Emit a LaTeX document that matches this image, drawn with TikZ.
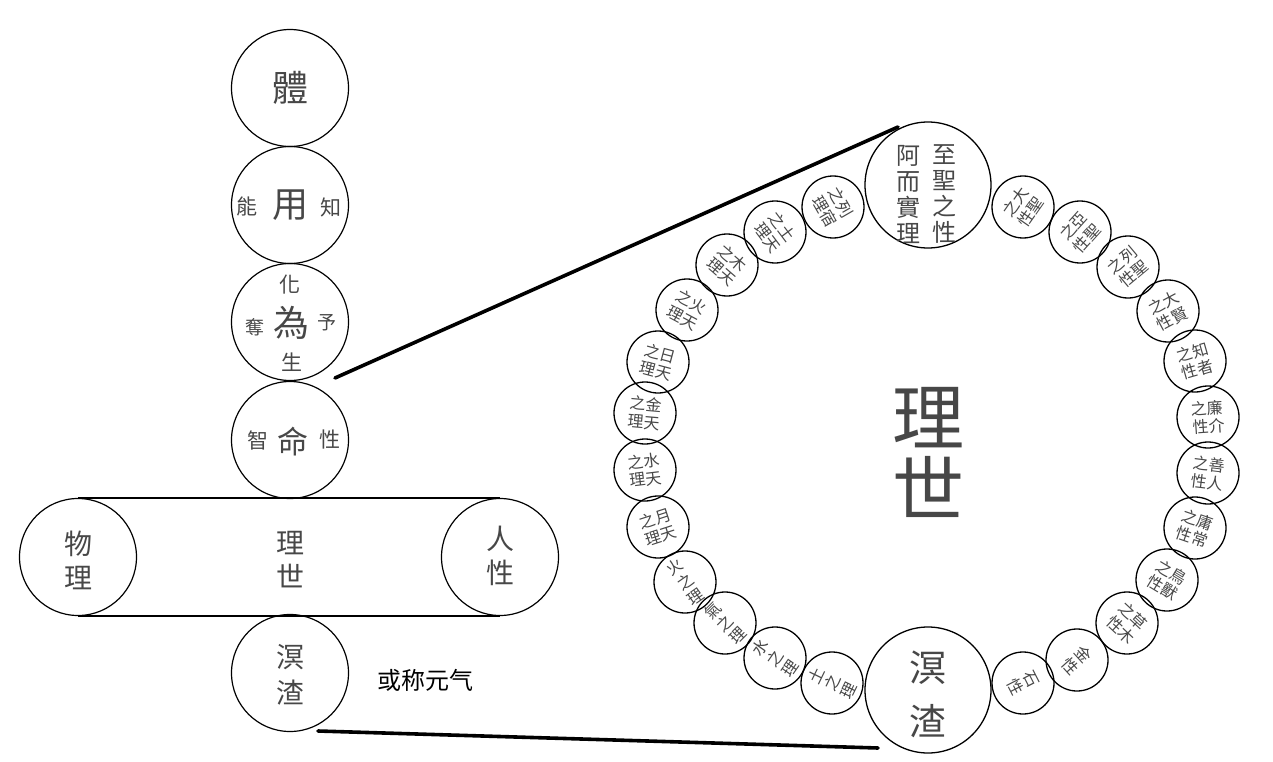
\documentclass[tikz,border=0pt]{standalone}
\usepackage{fontspec}
\setmainfont{Noto Sans CJK TC}
\newfontfamily\sccjk{Noto Sans CJK SC}
\newcommand\fs[2]{\fontsize{#1}{#2}\selectfont}
\definecolor{tx}{gray}{0.28}
\newcommand\bead[5]{%
  \node[smallc] (#1) at (#2,#3) {};
  \node[smalltxt,rotate=#4] (#1t) at (#1) {#5};}
\begin{document}
\begin{tikzpicture}[x=1pt,y=-1pt,
  bigc/.style={circle,draw,line width=1.2pt,minimum size=117pt,inner sep=0pt},
  ringbig/.style={circle,draw,line width=1.3pt,minimum size=126pt,inner sep=0pt},
  smallc/.style={circle,draw,line width=1.3pt,minimum size=62pt,inner sep=0pt},
  smalltxt/.style={inner sep=0pt,align=center,text=tx,font=\fs{16}{18}},
  txt/.style={inner sep=0pt,text=tx,align=center},
  conn/.style={line width=3.6pt,line cap=round}]
\useasboundingbox (0,0) rectangle (1273,762);
% ---------- left column ----------
\node[bigc] (ti) at (290,88) {};
\node[txt,font=\fs{36}{36}] (tiT) at (290,88) {體};
\node[bigc] (yong) at (290,205) {};
\node[txt,font=\fs{36}{36}] (yongT) at (290,205) {用};
\node[txt,font=\fs{21}{21}] (neng) at (247,207) {能};
\node[txt,font=\fs{21}{21}] (zhi) at (331,207) {知};
\node[bigc] (wei) at (290,322) {};
\node[txt,font=\fs{36}{36}] (weiT) at (291,323) {為};
\node[txt,font=\fs{21}{21}] (hua) at (290,285) {化};
\node[txt,font=\fs{19}{19}] (duo) at (255,327) {奪};
\node[txt,font=\fs{19}{19}] (yu) at (327,323) {予};
\node[txt,font=\fs{21}{21}] (sheng) at (292,362) {生};
\node[bigc] (ming) at (290,440) {};
\node[txt,font=\fs{31}{31}] (mingT) at (293,442) {命};
\node[txt,font=\fs{21}{21}] (zhi2) at (258,440) {智};
\node[txt,font=\fs{21}{21}] (xing) at (330,440) {性};
% band
\node[bigc] (wuli) at (78,557) {};
\node[bigc] (renxing) at (500,557) {};
\draw[line width=1.3pt] (wuli.north) -- (renxing.north);
\draw[line width=1.3pt] (wuli.south) -- (renxing.south);
\node[txt,font=\fs{28}{34}] (wuliT) at (78,560) {物\\理};
\node[txt,font=\fs{28}{34}] (renxingT) at (500,556) {人\\性};
\node[txt,font=\fs{28}{34}] (shiliT) at (290,560) {理\\世};
\node[bigc] (mz) at (290,673) {};
\node[txt,font=\fs{28}{36}] (mzT) at (290,675) {溟\\渣};
\node[inner sep=0pt,font=\sccjk\fs{24}{24}] (note) at (425,680) {或称元气};
% ---------- ring ----------
\node[ringbig] (top) at (928,185) {};
\node[txt,font=\fs{24}{26}] (topL) at (908,194) {阿\\而\\實\\理};
\node[txt,font=\fs{24}{26}] (topR) at (944,194) {至\\聖\\之\\性};
\node[ringbig] (bot) at (928,690) {};
\node[txt,font=\fs{37}{54}] (botT) at (928,694) {溟\\渣};
\node[txt,font=\fs{72}{72}] (centerT) at (928,452) {理\\世};
% right side
\bead{r1}{1023}{207}{55}{之大\\性聖}
\bead{r2}{1080}{232}{48}{之亞\\性聖}
\bead{r3}{1128}{267}{40}{之列\\性聖}
\bead{r4}{1168}{311}{28}{之大\\性賢}
\bead{r5}{1195}{361}{16}{之知\\性者}
\bead{r6}{1208}{417}{4}{之廉\\性介}
\bead{r7}{1208}{473}{-7}{之善\\性人}
\bead{r8}{1195}{528}{-19}{之庸\\性常}
\bead{r9}{1167}{580}{-31}{之鳥\\性獸}
\bead{r10}{1127}{623}{-43}{之草\\性木}
\bead{r11}{1077}{660}{-48}{金\\性}
\bead{r12}{1023}{683}{-63}{石\\性}
% left side
\bead{l1}{833}{207}{-60}{之列\\理宿}
\bead{l2}{775}{232}{-53}{之土\\理天}
\bead{l3}{727}{265}{-41}{之木\\理天}
\bead{l4}{687}{310}{-28}{之火\\理天}
\bead{l5}{658}{362}{-15}{之日\\理天}
\bead{l6}{645}{413}{-5}{之金\\理天}
\bead{l7}{645}{470}{7}{之水\\理天}
\bead{l8}{658}{527}{18}{之月\\理天}
\bead{l9}{685}{582}{35}{火\\之\\理}
\bead{l10}{725}{623}{45}{氣\\之\\理}
\bead{l11}{775}{658}{55}{水\\之\\理}
\bead{l12}{832}{683}{64}{土\\之\\理}
% ---------- connectors ----------
\coordinate (c1a) at (335,378);
\coordinate (c1b) at (898,127);
\coordinate (c2a) at (318,731);
\coordinate (c2b) at (878,748);
\draw[conn] (c1a) -- (c1b);
\draw[conn] (c2a) -- (c2b);
\end{tikzpicture}
\end{document}
